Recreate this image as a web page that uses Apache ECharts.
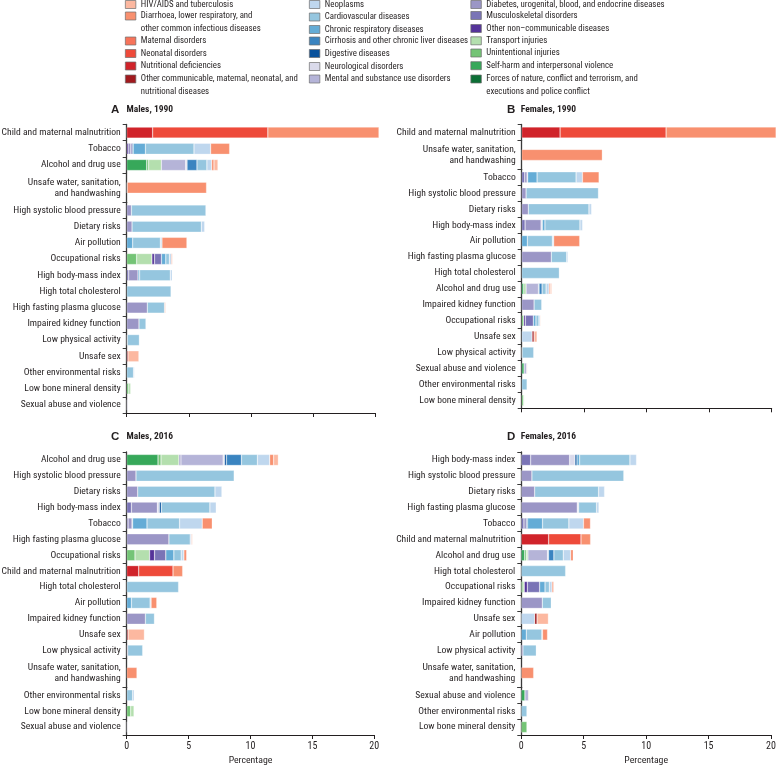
<!DOCTYPE html>
<html>
<head>
<meta charset="utf-8">
<script src="https://cdn.jsdelivr.net/npm/echarts@6/dist/echarts.min.js"></script>
<style>html,body{margin:0;padding:0;background:#fff}#c{width:777px;height:766px}</style>
</head>
<body>
<div id="c"></div>
<script>
// Causes in stacking order (left to right inside every bar)
const causes = [
  'Forces of nature, conflict and terrorism, and executions and police conflict',
  'Self-harm and interpersonal violence',
  'Unintentional injuries',
  'Transport injuries',
  'Other non\u2013communicable diseases',
  'Musculoskeletal disorders',
  'Diabetes, urogenital, blood, and endocrine diseases',
  'Mental and substance use disorders',
  'Neurological disorders',
  'Digestive diseases',
  'Cirrhosis and other chronic liver diseases',
  'Chronic respiratory diseases',
  'Cardiovascular diseases',
  'Neoplasms',
  'Other communicable, maternal, neonatal, and nutritional diseases',
  'Nutritional deficiencies',
  'Neonatal disorders',
  'Maternal disorders',
  'Diarrhoea, lower respiratory, and other common infectious diseases',
  'HIV/AIDS and tuberculosis'
];
const causeColors = [
  '#0c6e35','#37a85a','#74c476','#b4dfae','#553399','#7a74b6','#9b96c6','#b5b4d8','#dadaeb','#08519c',
  '#3a84c0','#64acd6','#95c6df','#bfd7ee','#a11a1e','#d0232a','#ee4a3a','#f7735a','#f8906f','#fcb8a0'
];

// Column order of every row: F, SH, UI, TR, ONCD, MSK, DIAB, MENT, NEUR, DIG, CIRR, CRD, CVD, NEO, OCOM, NUT, NEON, MAT, DIAR, HIV
const catsMales1990 = ['Child and maternal malnutrition','Tobacco','Alcohol and drug use','Unsafe water, sanitation, and handwashing','High systolic blood pressure','Dietary risks','Air pollution','Occupational risks','High body-mass index','High total cholesterol','High fasting plasma glucose','Impaired kidney function','Low physical activity','Unsafe sex','Other environmental risks','Low bone mineral density','Sexual abuse and violence'];
const valsMales1990 = [
  [0,0,0,0,0,0,0,0,0,0,0,0,0,0,0,2.09,9.28,0,8.95,0],
  [0,0,0,0,0.12,0.16,0.16,0,0,0.08,0,0.99,3.91,1.34,0,0,0,0,1.53,0],
  [0,1.61,0.16,1.02,0,0,0,1.96,0.11,0,0.80,0,0.80,0.38,0,0,0,0,0.19,0.32],
  [0,0,0,0,0,0,0,0,0,0,0,0,0,0,0.04,0,0,0,6.39,0],
  [0,0,0,0,0,0,0.38,0,0,0,0,0,6.00,0,0,0,0,0,0,0],
  [0,0,0,0,0,0,0.43,0,0,0,0,0,5.58,0.27,0,0,0,0,0,0],
  [0,0,0,0,0,0,0,0,0,0,0,0.48,2.23,0.13,0,0,0,0,2.01,0],
  [0,0,0.80,1.23,0.21,0.56,0,0,0,0,0,0.35,0.29,0.16,0,0,0,0,0.08,0],
  [0,0,0,0,0,0.16,0.75,0,0,0,0,0.13,2.47,0.16,0,0,0,0,0,0],
  [0,0,0,0,0,0,0,0,0,0,0,0,3.57,0,0,0,0,0,0,0],
  [0,0,0,0,0,0,1.66,0,0,0,0,0,1.39,0,0,0,0,0,0,0.08],
  [0,0,0,0,0,0,0.99,0,0,0,0,0,0.56,0,0,0,0,0,0,0],
  [0,0,0,0,0,0,0.05,0,0,0,0,0,0.97,0,0,0,0,0,0,0],
  [0,0,0,0,0,0,0,0,0,0,0,0,0,0,0.10,0,0,0,0,0.88],
  [0,0,0,0,0,0,0,0,0,0,0,0,0.55,0.07,0,0,0,0,0,0],
  [0,0,0.16,0.16,0,0,0,0,0,0,0,0,0,0,0,0,0,0,0,0],
  [0,0,0,0,0,0,0,0.06,0,0,0,0,0,0,0,0,0,0,0,0]
];

const catsFemales1990 = ['Child and maternal malnutrition','Unsafe water, sanitation, and handwashing','Tobacco','High systolic blood pressure','Dietary risks','High body-mass index','Air pollution','High fasting plasma glucose','High total cholesterol','Alcohol and drug use','Impaired kidney function','Occupational risks','Unsafe sex','Low physical activity','Sexual abuse and violence','Other environmental risks','Low bone mineral density'];
const valsFemales1990 = [
  [0,0,0,0,0,0,0,0,0,0,0,0,0,0,0,3.07,8.48,0,8.80,0],
  [0,0,0,0,0,0,0,0,0,0,0,0,0,0,0,0,0,0,6.45,0],
  [0,0,0,0,0,0.24,0.19,0,0,0.05,0,0.75,3.12,0.51,0,0,0,0,1.33,0],
  [0,0,0,0,0,0,0.35,0,0,0,0,0,5.79,0,0,0,0,0,0,0],
  [0,0,0,0,0,0,0.53,0,0,0,0,0,4.85,0.21,0,0,0,0,0,0],
  [0,0,0,0,0,0.27,1.28,0,0.10,0,0,0.21,2.80,0.21,0,0,0,0,0,0],
  [0,0,0,0,0,0,0,0,0,0,0,0.45,2.00,0.11,0,0,0,0,2.08,0],
  [0,0,0,0,0,0,2.37,0,0,0,0,0,1.23,0.10,0,0,0,0,0,0],
  [0,0,0,0,0,0,0,0,0,0,0,0,3.01,0,0,0,0,0,0,0],
  [0,0.16,0,0.19,0,0,0,0.99,0,0.05,0.24,0,0.32,0.24,0,0,0,0,0.11,0.10],
  [0,0,0,0,0,0,0.99,0,0,0,0,0,0.61,0,0,0,0,0,0,0],
  [0,0,0.16,0,0.13,0.64,0,0,0,0,0,0.21,0.24,0.10,0,0,0,0,0.05,0],
  [0,0,0,0,0,0,0,0,0,0,0,0,0,0.83,0.16,0,0,0,0,0.24],
  [0,0,0,0,0,0,0.03,0,0,0,0,0,0.93,0,0,0,0,0,0,0],
  [0,0.19,0,0,0,0,0,0.21,0,0,0,0,0,0,0,0,0,0,0,0.05],
  [0,0,0,0,0,0,0,0,0,0,0,0,0.43,0,0,0,0,0,0,0],
  [0,0,0.15,0.06,0,0,0,0,0,0,0,0,0,0,0,0,0,0,0,0]
];

const catsMales2016 = ['Alcohol and drug use','High systolic blood pressure','Dietary risks','High body-mass index','Tobacco','High fasting plasma glucose','Occupational risks','Child and maternal malnutrition','High total cholesterol','Air pollution','Impaired kidney function','Unsafe sex','Low physical activity','Unsafe water, sanitation, and handwashing','Other environmental risks','Low bone mineral density','Sexual abuse and violence'];
const valsMales2016 = [
  [0,2.53,0.24,1.45,0,0,0.16,3.41,0.11,0.16,1.21,0,1.29,0.99,0,0,0,0,0.32,0.38],
  [0,0,0,0,0,0,0.75,0,0,0,0,0,7.93,0,0,0,0,0,0,0],
  [0,0,0,0,0,0,0.89,0,0,0,0,0,6.24,0.56,0,0,0,0,0,0],
  [0,0,0,0,0,0.38,2.10,0,0.16,0.16,0,0,3.92,0.51,0,0,0,0,0,0],
  [0,0,0,0,0,0.11,0.32,0,0,0.05,0,1.16,2.63,1.83,0,0,0,0,0.81,0],
  [0,0,0,0,0,0,3.41,0,0,0,0,0,1.72,0.10,0,0,0,0,0,0.08],
  [0,0,0.67,1.18,0.40,0.91,0,0,0,0,0,0.65,0.59,0.22,0,0,0,0,0.22,0],
  [0,0,0,0,0,0,0,0,0,0,0,0,0,0,0,0.97,2.77,0,0.78,0],
  [0,0,0,0,0,0,0,0,0,0,0,0,4.19,0,0,0,0,0,0,0],
  [0,0,0,0,0,0,0,0,0,0,0,0.38,1.51,0.08,0,0,0,0,0.46,0],
  [0,0,0,0,0,0,1.51,0,0,0,0,0,0.73,0,0,0,0,0,0,0],
  [0,0,0,0,0,0,0,0,0,0,0,0,0,0,0.11,0,0,0,0,1.32],
  [0,0,0,0,0,0,0.08,0,0,0,0,0,1.21,0,0,0,0,0,0,0],
  [0,0,0,0,0,0,0,0,0,0,0,0,0,0,0,0,0,0,0.83,0],
  [0,0,0,0,0,0,0,0,0,0,0,0,0.48,0.13,0,0,0,0,0,0],
  [0,0,0.32,0.27,0,0,0,0,0,0,0,0,0,0,0,0,0,0,0,0],
  [0,0,0,0,0,0,0,0.06,0,0,0,0,0,0,0,0,0,0,0,0.04]
];

const catsFemales2016 = ['High body-mass index','High systolic blood pressure','Dietary risks','High fasting plasma glucose','Tobacco','Child and maternal malnutrition','Alcohol and drug use','High total cholesterol','Occupational risks','Impaired kidney function','Unsafe sex','Air pollution','Low physical activity','Unsafe water, sanitation, and handwashing','Sexual abuse and violence','Other environmental risks','Low bone mineral density'];
const valsFemales2016 = [
  [0,0,0,0,0,0.75,3.12,0,0.43,0.16,0,0.21,4.03,0.53,0,0,0,0,0,0],
  [0,0,0,0,0,0,0.85,0,0,0,0,0,7.36,0,0,0,0,0,0,0],
  [0,0,0,0,0,0,1.07,0,0,0,0,0,5.12,0.48,0,0,0,0,0,0],
  [0,0,0,0,0,0,4.48,0,0.11,0,0,0,1.44,0.19,0,0,0,0,0,0],
  [0,0,0,0,0,0.21,0.21,0,0,0.08,0,1.20,2.11,1.17,0,0,0,0,0.56,0],
  [0,0,0,0,0,0,0,0,0,0,0,0,0,0,0,2.19,2.59,0,0.77,0],
  [0,0.27,0.13,0.13,0,0,0,1.57,0.08,0,0.43,0,0.75,0.59,0,0,0,0,0.21,0],
  [0,0,0,0,0,0,0,0,0,0,0,0,3.55,0,0,0,0,0,0,0],
  [0,0,0.13,0.11,0.24,0.99,0,0,0,0,0,0.43,0.35,0.21,0,0,0,0,0.13,0],
  [0,0,0,0,0,0,1.68,0,0,0,0,0,0.72,0,0,0,0,0,0,0],
  [0,0,0,0,0,0,0,0,0,0,0,0,0,1.07,0.19,0,0,0,0,0.91],
  [0,0,0,0,0,0,0,0,0,0,0,0.40,1.25,0.05,0,0,0,0,0.40,0],
  [0,0,0,0,0,0,0.13,0,0,0,0,0,1.07,0,0,0,0,0,0,0],
  [0,0,0,0,0,0,0,0,0,0,0,0,0,0,0,0,0,0,0.99,0],
  [0,0.29,0,0,0,0,0,0.29,0,0,0,0,0,0,0,0,0,0,0,0.05],
  [0,0,0,0,0,0,0,0,0,0,0,0,0.45,0,0,0,0,0,0,0],
  [0,0,0.45,0,0,0,0,0,0,0,0,0,0,0,0,0,0,0,0,0]
];

const panelLetters = ['A','B','C','D'];
const panelTitles = ['Males, 1990','Females, 1990','Males, 2016','Females, 2016'];
const xTicks = [0,5,10,15,20];

// ---------- build chart ----------
const FONT = "'Roboto Condensed','Liberation Sans',sans-serif";
const INK = '#231f20';
const WATER = 'Unsafe water, sanitation, and handwashing';
const EXTRA = 13; // extra room given to the two-line category
const panels = [
  {cats: catsMales1990, vals: valsMales1990, left:126.7, width:248.3, top:124.5, bottom:413, labels:false, tl:[111,126.5,110.5]},
  {cats: catsFemales1990, vals: valsFemales1990, left:521.7, width:250, top:124.5, bottom:408.3, labels:false, tl:[507,520.7,110.5]},
  {cats: catsMales2016, vals: valsMales2016, left:126.7, width:247.6, top:452, bottom:735, labels:true, tl:[111,126.5,437.5]},
  {cats: catsFemales2016, vals: valsFemales2016, left:521.3, width:249.7, top:452, bottom:735, labels:true, tl:[507,520.7,437.5]}
];

const grids = [], xAxes = [], yAxes = [], series = [], titles = [];
panels.forEach((p, pi) => {
  const n = p.cats.length;
  const u = p.cats.indexOf(WATER);
  const segs = [[0,u],[u,u+1],[u+1,n]].filter(([a,b]) => b > a);
  const slot = (p.bottom - p.top - EXTRA) / n;
  let y = p.top;
  segs.forEach(([a,b], si) => {
    const h = (b - a) * slot + ((a <= u && u < b) ? EXTRA : 0);
    const gi = grids.length;
    const last = si === segs.length - 1;
    grids.push({left:p.left, width:p.width, top:y, height:h, containLabel:false, outerBoundsMode:'none'});
    xAxes.push({
      type:'value', gridIndex:gi, show:last, min:xTicks[0], max:xTicks[xTicks.length-1], interval:xTicks[1]-xTicks[0],
      axisLine:{show:true, lineStyle:{color:INK, width:1}},
      axisTick:{show:true, length:4, lineStyle:{color:INK}},
      splitLine:{show:false},
      axisLabel:{show:p.labels, fontSize:10, color:INK, margin:6, fontFamily:FONT},
      name: p.labels ? 'Percentage' : '', nameLocation:'middle', nameGap:21,
      nameTextStyle:{fontSize:9.8, color:INK, fontFamily:FONT}
    });
    yAxes.push({
      type:'category', gridIndex:gi, data:p.cats.slice(a,b), inverse:true,
      axisLine:{show:true, lineStyle:{color:'#3a3a3a', width:1.3}},
      axisTick:{show:true, length:4, lineStyle:{color:'#3a3a3a', width:1}},
      axisLabel:{fontSize:9.6, color:INK, margin:6, lineHeight:11, fontFamily:FONT,
        formatter: v => v.replace('sanitation, and', 'sanitation,\nand')}
    });
    causes.forEach((c, ci) => {
      series.push({
        type:'bar', name:c, xAxisIndex:gi, yAxisIndex:gi, stack:'g'+gi, barWidth:11, clip:false,
        silent:true, emphasis:{disabled:true},
        itemStyle:{color:causeColors[ci], borderColor:'rgba(255,255,255,0.55)', borderWidth:0.5},
        data: p.vals.slice(a,b).map(r => (r[ci] ? r[ci] : null))
      });
    });
    y += h;
  });
  titles.push({text:panelLetters[pi], left:p.tl[0], top:p.tl[2]-6.5, padding:0,
    textStyle:{fontSize:11.5, fontWeight:'bold', color:INK, fontFamily:"'Liberation Sans',sans-serif"}});
  titles.push({text:panelTitles[pi], left:p.tl[1], top:p.tl[2]-5.5, padding:0,
    textStyle:{fontSize:9.5, fontWeight:'bold', color:INK, fontFamily:FONT}});
});

// Legend: three columns, in the order shown in the key
const legendCols = [
  {x:125, items:[[19,4.5],[18,16],[17,41],[16,53.5],[15,66],[14,79]]},
  {x:309, items:[[13,4.5],[12,17],[11,29.5],[10,41],[9,53.5],[8,66.5],[7,79]]},
  {x:470.5, items:[[6,4.5],[5,15.5],[4,28.5],[3,40.8],[2,53],[1,65.7],[0,79]]}
];
const twoLine = {
  'Diarrhoea, lower respiratory, and other common infectious diseases':'Diarrhoea, lower respiratory, and\nother common infectious diseases',
  'Other communicable, maternal, neonatal, and nutritional diseases':'Other communicable, maternal, neonatal, and\nnutritional diseases',
  'Forces of nature, conflict and terrorism, and executions and police conflict':'Forces of nature, conflict and terrorism, and\nexecutions and police conflict'
};
const LH = 12.5;
const legends = [];
legendCols.forEach(col => {
  col.items.forEach(([ci, cy]) => {
    const name = causes[ci];
    const two = !!twoLine[name];
    legends.push({
      data:[name], left:col.x, top: two ? cy - 1.5*LH : cy - LH/2, padding:0, orient:'vertical',
      selectedMode:false, itemWidth:10.5, itemHeight:8, itemGap:0, icon:'rect',
      itemStyle:{borderColor:'#6d6d6d', borderWidth:0.7},
      formatter: n => (twoLine[n] ? '\n' + twoLine[n] : n),
      textStyle:{fontSize:8.8, color:INK, fontFamily:FONT, lineHeight:LH}
    });
  });
});

const chart = echarts.init(document.getElementById('c'), null, {renderer:'canvas'});
chart.setOption({
  animation:false,
  backgroundColor:'#fff',
  title:titles, legend:legends, grid:grids, xAxis:xAxes, yAxis:yAxes, series:series
});
</script>
</body>
</html>
